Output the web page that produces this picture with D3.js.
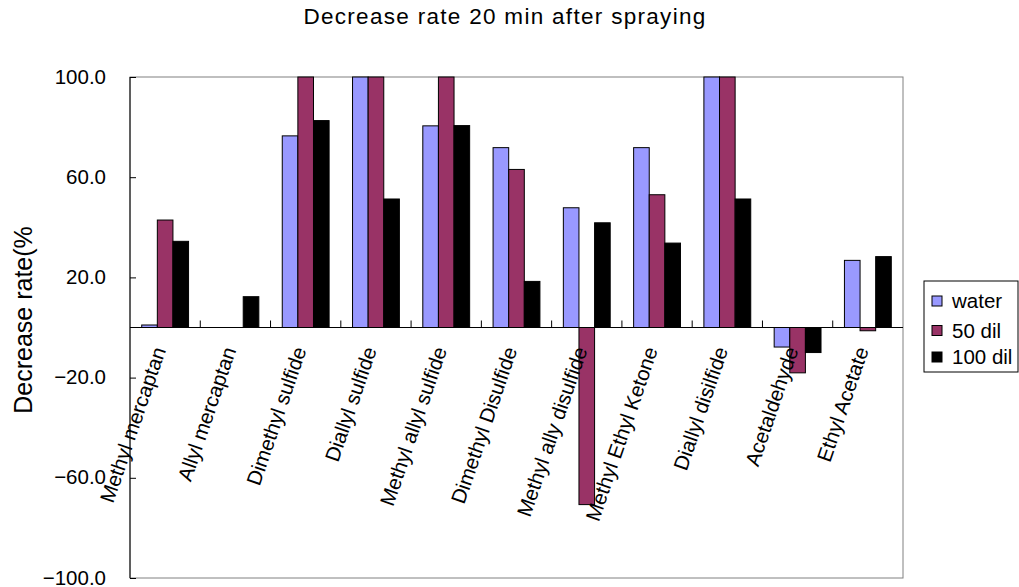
<!DOCTYPE html>
<html>
<head>
<meta charset="utf-8">
<script src="https://cdn.jsdelivr.net/npm/d3@7"></script>
<style>
  html, body { margin: 0; padding: 0; background: #fff; }
  svg { display: block; font-family: "Liberation Sans", Arial, sans-serif; }
</style>
</head>
<body>
<svg id="chart" width="1019" height="587"></svg>
<script>
// Compounds measured
const categories = [
  "Methyl mercaptan", "Allyl mercaptan", "Dimethyl sulfide", "Diallyl sulfide",
  "Methyl allyl sulfide", "Dimethyl Disulfide", "Methyl ally disulfide",
  "Methyl Ethyl Ketone", "Diallyl disilfide", "Acetaldehyde", "Ethyl Acetate"
];
// Decrease rate (%) per spray solution
const seriesNames = ["water", "50 dil", "100 dil"];
const waterValues  = [1.0, 0, 76.5, 100, 80.5, 71.8, 47.8, 71.8, 100, -7.8, 26.8];
const dil50Values  = [42.9, 0, 100, 100, 100, 63.1, -70.7, 53.0, 100, -18.1, -1.3];
const dil100Values = [34.4, 12.3, 82.6, 51.3, 80.6, 18.4, 41.8, 33.7, 51.3, -10.0, 28.3];
const seriesColors = ["#9999FF", "#993366", "#000000"];
const yTicks = [-100, -60, -20, 20, 60, 100];

const title = "Decrease rate 20 min after spraying";
const yTitle = "Decrease rate(%";

const svg = d3.select("#chart");
const plot = { left: 130, right: 903, top: 77, bottom: 578 };

const x = d3.scaleBand()
  .domain(categories)
  .range([plot.left, plot.right])
  .paddingInner(1 / 3)
  .paddingOuter(1 / 6);

const xs = d3.scaleBand()
  .domain(seriesNames)
  .range([0, x.bandwidth()]);

const y = d3.scaleLinear()
  .domain([-100, 100])
  .range([plot.bottom, plot.top]);

const seriesData = [waterValues, dil50Values, dil100Values];

// Plot area frame
svg.append("rect")
  .attr("x", plot.left).attr("y", plot.top)
  .attr("width", plot.right - plot.left).attr("height", plot.bottom - plot.top)
  .attr("fill", "none").attr("stroke", "#808080").attr("stroke-width", 1);

// Bars
seriesNames.forEach((name, si) => {
  svg.append("g")
    .selectAll("rect")
    .data(categories.map((c, i) => ({ c, v: seriesData[si][i] })))
    .join("rect")
    .filter(d => d.v !== 0)
    .attr("x", d => x(d.c) + xs(name))
    .attr("width", xs.bandwidth())
    .attr("y", d => y(Math.max(0, d.v)))
    .attr("height", d => Math.abs(y(d.v) - y(0)))
    .attr("fill", seriesColors[si])
    .attr("stroke", "#000")
    .attr("stroke-width", 1);
});

// Value axis
const yAxis = svg.append("g")
  .attr("transform", `translate(${plot.left},0)`)
  .call(d3.axisRight(y).tickValues(yTicks).tickSize(6).tickFormat(d => d3.format(".1f")(d).replace("-", "\u2212")));
yAxis.select(".domain").attr("stroke", "#000").attr("d", `M0,${plot.top}V${plot.bottom}`);
yAxis.selectAll(".tick line").attr("stroke", "#000");
yAxis.selectAll(".tick text")
  .attr("x", -24)
  .attr("dy", "0.3em")
  .attr("text-anchor", "end")
  .attr("font-size", 20.5)
  .attr("font-family", "'Liberation Sans', Arial, sans-serif")
  .attr("fill", "#000");

// Category axis at zero
const xAxis = svg.append("g")
  .attr("transform", `translate(0,${y(0)})`);
xAxis.append("line")
  .attr("x1", plot.left).attr("x2", plot.right)
  .attr("stroke", "#000").attr("stroke-width", 1);
const boundaries = categories.slice(1).map(c => x(c) - x.step() * x.paddingInner() / 2);
xAxis.selectAll("line.tick")
  .data(boundaries)
  .join("line")
  .attr("class", "tick")
  .attr("x1", d => d).attr("x2", d => d)
  .attr("y1", 0).attr("y2", -7)
  .attr("stroke", "#000");

// Category labels
svg.append("g")
  .selectAll("text")
  .data(categories)
  .join("text")
  .attr("transform", d => `translate(${x(d) + x.bandwidth() / 2 + 1},350) rotate(-71)`)
  .attr("text-anchor", "end")
  .attr("font-size", 20.5)
  .attr("fill", "#000")
  .text(d => d);

// Title
svg.append("text")
  .attr("x", 505).attr("y", 24)
  .attr("text-anchor", "middle")
  .attr("font-size", 22.5)
  .attr("letter-spacing", 1.3)
  .attr("fill", "#000")
  .text(title);

// Value axis title
svg.append("text")
  .attr("transform", "translate(32,320) rotate(-90)")
  .attr("text-anchor", "middle")
  .attr("font-size", 25)
  .attr("fill", "#000")
  .text(yTitle);

// Legend
const legend = svg.append("g");
legend.append("rect")
  .attr("x", 924).attr("y", 281).attr("width", 94).attr("height", 91)
  .attr("fill", "#fff").attr("stroke", "#000");
const legendRows = [301, 330.5, 357];
seriesNames.forEach((name, i) => {
  legend.append("rect")
    .attr("x", 932).attr("y", legendRows[i] - 5)
    .attr("width", 10).attr("height", 10)
    .attr("fill", seriesColors[i]).attr("stroke", "#000");
  legend.append("text")
    .attr("x", 952).attr("y", legendRows[i])
    .attr("dy", "0.36em")
    .attr("font-size", 20.5)
    .attr("fill", "#000")
    .text(name);
});
</script>
</body>
</html>
